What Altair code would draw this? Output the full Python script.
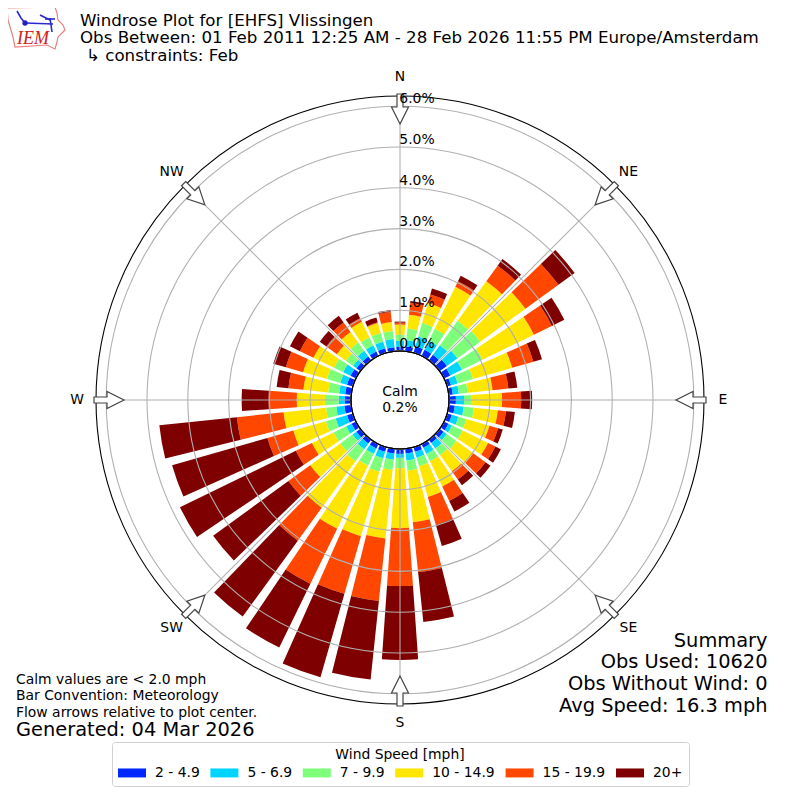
import math
import altair as alt
import pandas as pd

directions = list(range(0, 360, 10))
speed_labels = ["2 - 4.9", "5 - 6.9", "7 - 9.9", "10 - 14.9", "15 - 19.9", "20+"]
colors = ["#0028ff", "#00d4ff", "#7dff7a", "#ffe600", "#ff4700", "#7f0000"]

blue = [.10,.12,.17,.17,.17,.22,.17,.10,.10,.17,.15,.12,.12,.12,.10,.10,.12,.12,.12,.12,.12,.12,.12,.12,.12,.15,.17,.15,.15,.15,.15,.12,.12,.12,.12,.10]
cyan = [.15,.15,.25,.25,.29,.32,.32,.17,.15,.20,.22,.17,.10,.10,.17,.17,.15,.17,.10,.15,.17,.15,.17,.12,.15,.29,.20,.15,.15,.17,.20,.10,.17,.17,.17,.20]
green = [.15,.29,.34,.32,.74,.69,.56,.39,.22,.17,.25,.20,.29,.29,.20,.20,.22,.25,.25,.25,.34,.32,.37,.37,.34,.25,.25,.34,.27,.34,.25,.22,.25,.22,.22,.20]
yellow = [.25,.34,.51,1.15,1.20,1.37,1.40,1.00,.61,.76,.59,.59,.69,.51,.49,.69,.78,1.27,1.47,1.69,1.64,1.72,1.40,.91,.59,.83,1.05,.69,.61,.61,.56,.27,.32,.42,.25,.22]
orange = [.05,.29,.22,.15,.47,1.00,.49,.54,.39,.47,.20,.22,.20,.37,.25,.39,.71,1.23,1.42,1.54,1.47,1.50,1.00,.66,.44,.66,1.15,.69,.37,.44,.37,.32,.29,.10,.02,.25]
dark = [.02,.05,.15,.15,.20,.49,.34,.22,.22,.27,.22,.12,.15,.15,.17,.29,.54,1.23,1.81,1.94,2.13,1.74,2.30,2.28,3.16,2.43,1.91,.66,.29,.32,.27,.20,.20,.15,.12,.05]
series = [blue, cyan, green, yellow, orange, dark]

ring_values = [1, 2, 3, 4, 5, 6]
tick_values = [0, 1, 2, 3, 4, 5, 6]
compass = ["N", "NE", "E", "SE", "S", "SW", "W", "NW"]
compass_deg = [0, 45, 90, 135, 180, 225, 270, 315]

R0, R_PCT, R_MAX = 49.0, 40.8, 6.25
bar_half = 4.0
W = 784


def radius_px(p):
    return R0 + R_PCT * p


rows = []
for i, d in enumerate(directions):
    total = 0.0
    for j, s in enumerate(series):
        rows.append({"a0": d - bar_half, "a1": d + bar_half, "r0": total,
                     "r1": total + s[i], "speed": speed_labels[j]})
        total += s[i]
bars_df = pd.DataFrame(rows)

theta_scale = alt.Scale(domain=[0, 360], range=[0, 2 * math.pi])
radius_scale = alt.Scale(domain=[0, R_MAX], range=[R0, R0 + R_PCT * R_MAX])
x_scale = alt.Scale(domain=[0, W], range=[0, W])
y_scale = alt.Scale(domain=[0, W], range=[0, W])
X0, Y0 = 392, 392

bars = alt.Chart(bars_df).mark_arc(stroke=None).encode(
    theta=alt.Theta("a0:Q", scale=theta_scale),
    theta2="a1:Q",
    radius=alt.Radius("r0:Q", scale=radius_scale),
    radius2="r1:Q",
    color=alt.Color(
        "speed:N",
        scale=alt.Scale(domain=speed_labels, range=colors),
        legend=alt.Legend(
            title="Wind Speed [mph]", orient="none", legendX=104, legendY=734,
            columns=6, gridAlign="each", direction="horizontal",
            symbolType="M-1,-0.64H3V0.64H-1Z", symbolSize=196, symbolStrokeWidth=0,
            labelFont="DejaVu Sans", labelFontSize=13.9, labelColor="#000000",
            labelOffset=23, columnPadding=10.4,
            titleFont="DejaVu Sans", titleFontSize=13.9, titleFontWeight="normal",
            titleColor="#000000", titleAnchor="middle", titlePadding=4,
            fillColor="#ffffff", strokeColor="#d0d0d0", cornerRadius=3, padding=6,
        ),
    ),
)


def circle(values, color, width):
    df = pd.DataFrame({"p": values, "a0": [0] * len(values), "a1": [360] * len(values)})
    return alt.Chart(df).mark_arc(fillOpacity=0, stroke=color, strokeWidth=width).encode(
        theta=alt.Theta("a0:Q", scale=theta_scale),
        theta2="a1:Q",
        radius=alt.Radius("p:Q", scale=radius_scale),
    )


rings = circle(ring_values, "#b0b0b0", 1.1)
inner = circle([0], "#000000", 1.1)
outer = circle([R_MAX], "#000000", 1.1)

spoke_rows = []
for d in compass_deg:
    t = math.radians(d)
    spoke_rows.append({
        "x": X0 + R0 * math.sin(t), "y": Y0 - R0 * math.cos(t),
        "x2": X0 + radius_px(R_MAX) * math.sin(t), "y2": Y0 - radius_px(R_MAX) * math.cos(t),
    })
spokes = alt.Chart(pd.DataFrame(spoke_rows)).mark_rule(color="#b0b0b0", strokeWidth=1.1).encode(
    x=alt.X("x:Q", scale=x_scale, axis=None),
    y=alt.Y("y:Q", scale=y_scale, axis=None),
    x2="x2:Q",
    y2="y2:Q",
)

arrow_path = "M0,1L0.567,-0.133L0.2,-0.133L0.2,-1L-0.2,-1L-0.2,-0.133L-0.567,-0.133Z"
arrow_rows = []
for d in compass_deg:
    t = math.radians(d)
    arrow_rows.append({"x": X0 + 291 * math.sin(t), "y": Y0 - 291 * math.cos(t), "a": d})
arrows = alt.Chart(pd.DataFrame(arrow_rows)).mark_point(
    shape=arrow_path, size=900, filled=True, fill="#ffffff", stroke="#444444",
    strokeWidth=1.2, opacity=1,
).encode(
    x=alt.X("x:Q", scale=x_scale, axis=None),
    y=alt.Y("y:Q", scale=y_scale, axis=None),
    angle=alt.Angle("a:Q", scale=None),
)

label_rows = []
for name, d in zip(compass, compass_deg):
    t = math.radians(d)
    label_rows.append({"x": X0 + 323 * math.sin(t), "y": Y0 - 323 * math.cos(t), "t": name})
compass_labels = alt.Chart(pd.DataFrame(label_rows)).mark_text(
    font="DejaVu Sans", fontSize=13.9, color="#000000", baseline="middle", align="center",
).encode(
    x=alt.X("x:Q", scale=x_scale, axis=None),
    y=alt.Y("y:Q", scale=y_scale, axis=None),
    text="t:N",
)

tick_df = pd.DataFrame({
    "x": [X0 + 17] * len(tick_values),
    "y": [Y0 - radius_px(v) - 7 for v in tick_values],
    "t": [f"{v:.1f}%" for v in tick_values],
})
tick_labels = alt.Chart(tick_df).mark_text(
    font="DejaVu Sans", fontSize=13.9, color="#000000", baseline="middle", align="center",
).encode(
    x=alt.X("x:Q", scale=x_scale, axis=None),
    y=alt.Y("y:Q", scale=y_scale, axis=None),
    text="t:N",
)


def text(label, px, py, size, align="left", color="#000000", **kw):
    return alt.Chart(alt.Data(values=[{"t": label}])).mark_text(
        font=kw.pop("font", "DejaVu Sans"), fontSize=size, align=align, baseline="middle",
        color=color, **kw,
    ).encode(x=alt.value(px - 8), y=alt.value(py - 8), text="t:N")


texts = [
    text("Windrose Plot for [EHFS] Vlissingen", 80, 20.5, 16.67),
    text("Obs Between: 01 Feb 2011 12:25 AM - 28 Feb 2026 11:55 PM Europe/Amsterdam", 80, 38, 16.67),
    text("\u21b3 constraints: Feb", 86, 55.5, 16.67),
    text("Calm", 400, 391.5, 13.9, "center"),
    text("0.2%", 400, 407.5, 13.9, "center"),
    text("Summary", 767.5, 640.5, 19.4, "right"),
    text("Obs Used: 10620", 767.5, 662, 19.4, "right"),
    text("Obs Without Wind: 0", 767.5, 683.5, 19.4, "right"),
    text("Avg Speed: 16.3 mph", 767.5, 705.5, 19.4, "right"),
    text("Calm values are < 2.0 mph", 16, 680, 13.9),
    text("Bar Convention: Meteorology", 16, 696, 13.9),
    text("Flow arrows relative to plot center.", 16, 712.5, 13.9),
    text("Generated: 04 Mar 2026", 16, 730, 19.4),
]

# IEM logo: outline, wind-barb glyph and letters
logo_outline = [(7, 8), (55, 7), (57, 13), (58, 20), (63, 25), (65, 30), (58, 37), (57, 42),
                (55, 49), (47, 45), (15, 47), (13, 37), (8, 20), (7, 8)]
logo_lines = {
    "shaft": [(25, 23), (53, 24)],
    "barb1": [(17, 11), (21, 18), (25, 23)],
    "barb2": [(40, 15), (50, 20)],
    "cross": [(45, 19), (55, 19)],
    "stem": [(50, 18), (52, 32)],
}
outline_df = pd.DataFrame(
    [{"x": x - 8, "y": y - 8, "i": i} for i, (x, y) in enumerate(logo_outline)]
)
logo_box = alt.Chart(outline_df).mark_line(color="#e88080", strokeWidth=1.2).encode(
    x=alt.X("x:Q", scale=x_scale, axis=None),
    y=alt.Y("y:Q", scale=y_scale, axis=None),
    order="i:Q",
)
glyph_rows = []
for k, pts in logo_lines.items():
    for i, (x, y) in enumerate(pts):
        glyph_rows.append({"x": x - 8, "y": y - 8, "i": i, "k": k})
logo_glyph = alt.Chart(pd.DataFrame(glyph_rows)).mark_line(color="#2a2ad0", strokeWidth=1.6).encode(
    x=alt.X("x:Q", scale=x_scale, axis=None),
    y=alt.Y("y:Q", scale=y_scale, axis=None),
    detail="k:N",
    order="i:Q",
)
logo_dot = alt.Chart(pd.DataFrame({"x": [25 - 8], "y": [23 - 8]})).mark_point(
    filled=True, color="#2020c0", size=28, opacity=1,
).encode(
    x=alt.X("x:Q", scale=x_scale, axis=None),
    y=alt.Y("y:Q", scale=y_scale, axis=None),
)
logo_text = text("IEM", 17, 38.5, 18, color="#d02020", font="Liberation Serif", fontStyle="italic")

chart = alt.layer(
    bars, rings, spokes, inner, outer, arrows, compass_labels, tick_labels,
    logo_box, logo_glyph, logo_dot, logo_text, *texts,
).resolve_scale(x="shared", y="shared").properties(
    width=W, height=W, padding=0, autosize="none",
).configure_view(stroke=None)

chart.save("out.html", embed_options={"renderer": "svg", "actions": False})
